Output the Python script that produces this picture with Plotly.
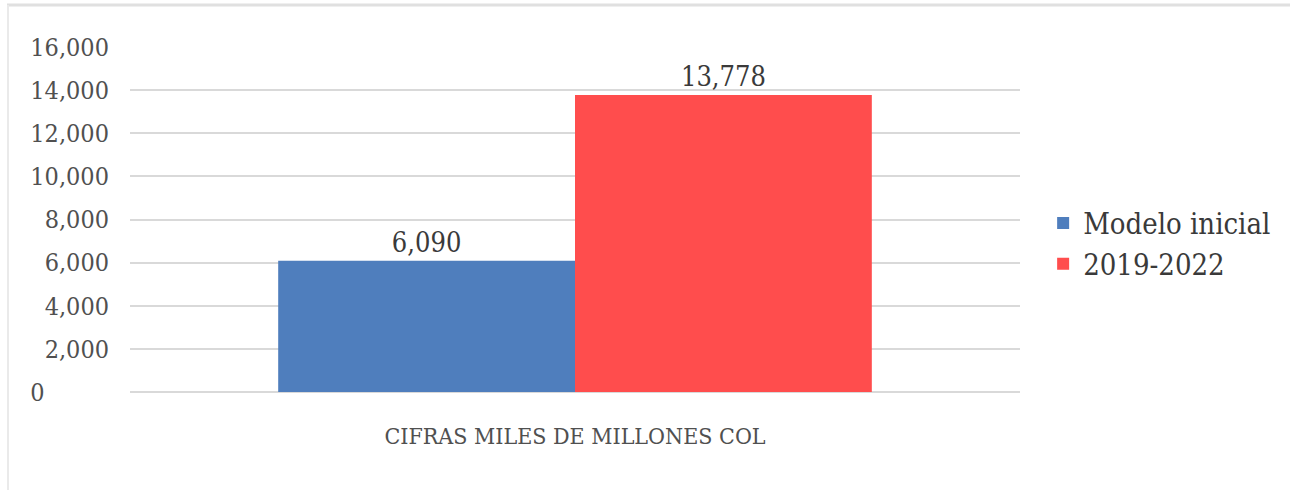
import plotly.graph_objects as go

categories = ["CIFRAS MILES DE MILLONES COL"]
series_names = ["Modelo inicial", "2019-2022"]
series_values = [[6090], [13778]]
series_colors = ["#4F7EBD", "#FF4D4D"]
tick_vals = [0, 2000, 4000, 6000, 8000, 10000, 12000, 14000, 16000]
tick_text = ["0\u2007\u2008\u2007\u2007\u2007", "2,000", "4,000", "6,000", "8,000", "10,000", "12,000", "14,000", "16,000"]

FONT = "DejaVu Serif Condensed, Liberation Serif, serif"

fig = go.Figure()
for name, vals, col in zip(series_names, series_values, series_colors):
    fig.add_trace(go.Bar(
        x=categories, y=vals, name=name, marker=dict(color=col, line=dict(width=0)),
        text=[f"{v:,}" for v in vals], textposition="outside", cliponaxis=False,
        textfont=dict(family=FONT, size=27, color="#3A3A3A"),
    ))

px_x = lambda p: (p - 130) / 890
px_y = lambda p: (392 - p) / 345

fig.update_layout(
    width=1290, height=490,
    margin=dict(l=130, r=270, t=47, b=98, autoexpand=False),
    paper_bgcolor="white", plot_bgcolor="white",
    barmode="group", bargap=0.333, bargroupgap=0,
    showlegend=True,
    legend=dict(x=1.026, y=0.43, xanchor="left", yanchor="middle",
                font=dict(family=FONT, size=29, color="#3A3A3A"),
                tracegroupgap=4, itemwidth=30),
    xaxis=dict(showgrid=False, showline=False, ticks="", automargin=False,
               tickfont=dict(family=FONT, size=23, color="#505050"),
               ticklabelstandoff=28),
    yaxis=dict(range=[0, 16000], tickvals=tick_vals, ticktext=tick_text,
               showgrid=True, gridcolor="#D9D9D9", gridwidth=2, automargin=False,
               zeroline=True, zerolinecolor="#D9D9D9", zerolinewidth=2,
               showline=False, ticks="",
               tickfont=dict(family=FONT, size=25, color="#505050"),
               ticklabelstandoff=20),
    shapes=[
        dict(type="line", xref="paper", yref="paper",
             x0=px_x(7), x1=px_x(1290), y0=px_y(5), y1=px_y(5),
             line=dict(color="#E0E0E0", width=3), layer="below"),
        dict(type="line", xref="paper", yref="paper",
             x0=px_x(8), x1=px_x(8), y0=px_y(5), y1=px_y(490),
             line=dict(color="#EAEAEA", width=2), layer="below"),
    ],
)

fig.write_html("out.html")
